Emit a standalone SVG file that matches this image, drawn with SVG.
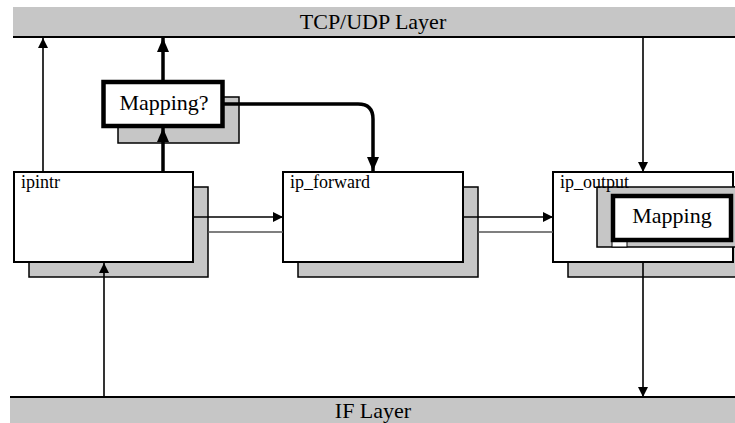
<svg xmlns="http://www.w3.org/2000/svg" width="735" height="423" viewBox="0 0 735 423">
<style>
  text { font-family: "Liberation Serif", "Times New Roman", serif; fill: #000; }
  .bar { fill: #c6c6c6; }
  .barline { stroke: #000; stroke-width: 2; }
  .box { fill: #fff; stroke: #000; stroke-width: 2; }
  .shadow { fill: #c6c6c6; stroke: #000; stroke-width: 1.5; }
  .thick { fill: #fff; stroke: #000; stroke-width: 4.5; }
  .thin { fill: none; stroke: #000; stroke-width: 1.6; }
  .fat { fill: none; stroke: #000; stroke-width: 3.5; }
  .grayline { fill: none; stroke: #555; stroke-width: 1.3; }
  .lbl { font-size: 18px; }
  .big { font-size: 22px; text-anchor: middle; }
</style>
<defs>
  <marker id="ah" markerUnits="userSpaceOnUse" markerWidth="10" markerHeight="12" refX="10" refY="5" orient="auto" viewBox="0 0 10 10">
    <path d="M0,0 L10,5 L0,10 z" fill="#000"/>
  </marker>
  <marker id="ahb" markerUnits="userSpaceOnUse" markerWidth="14" markerHeight="12" refX="14" refY="6" orient="auto" viewBox="0 0 14 12">
    <path d="M0,0 L14,6 L0,12 z" fill="#000"/>
  </marker>
</defs>

<g id="tcp-layer">
  <rect class="bar" x="13" y="7" width="722" height="30"/>
  <line class="barline" x1="13" y1="37" x2="735" y2="37"/>
  <text class="big" x="373" y="29">TCP/UDP Layer</text>
</g>

<g id="if-layer">
  <rect class="bar" x="10" y="397" width="725" height="26"/>
  <line class="barline" x1="10" y1="397" x2="735" y2="397"/>
  <text class="big" x="373" y="418">IF Layer</text>
</g>

<g id="ipintr">
  <rect class="shadow" x="29" y="187" width="179" height="90"/>
  <rect class="box" x="14" y="172" width="179" height="90"/>
  <text class="lbl" x="21" y="188">ipintr</text>
</g>

<g id="ip_forward">
  <rect class="shadow" x="298" y="187" width="180" height="90"/>
  <rect class="box" x="283" y="172" width="180" height="90"/>
  <text class="lbl" x="290" y="188">ip_forward</text>
</g>

<g id="ip_output">
  <rect class="shadow" x="568" y="187" width="170" height="90"/>
  <rect class="box" x="553" y="172" width="180" height="90"/>
  <rect class="shadow" x="597" y="187" width="142" height="60"/>
  <rect fill="#fff" stroke="#000" stroke-width="1" x="612" y="240" width="15" height="7"/>
  <text class="lbl" x="560" y="188">ip_output</text>
</g>

<g id="mapping-q">
  <rect class="shadow" x="118" y="97" width="121" height="46"/>
  <rect class="thick" x="103.5" y="82" width="119" height="44"/>
  <text class="big" x="164" y="110">Mapping?</text>
</g>

<g id="mapping">
  <rect class="thick" x="613" y="196" width="118" height="44"/>
  <text class="big" x="672" y="223">Mapping</text>
</g>

<g id="connectors">
  <line class="thin" x1="43" y1="172" x2="43" y2="38" marker-end="url(#ah)"/>
  <line class="fat" x1="163" y1="80" x2="163" y2="38" marker-end="url(#ahb)"/>
  <line class="fat" x1="163" y1="172" x2="163" y2="128" marker-end="url(#ahb)"/>
  <path class="fat" d="M224,104 H358 Q373,104 373,119 V171" marker-end="url(#ahb)"/>
  <line class="thin" x1="193" y1="217" x2="283" y2="217" marker-end="url(#ah)"/>
  <line class="grayline" x1="208" y1="232" x2="283" y2="232"/>
  <line class="thin" x1="463" y1="217" x2="553" y2="217" marker-end="url(#ah)"/>
  <line class="grayline" x1="478" y1="232" x2="553" y2="232"/>
  <line class="thin" x1="643" y1="37" x2="643" y2="172" marker-end="url(#ah)"/>
  <line class="thin" x1="643" y1="262" x2="643" y2="397" marker-end="url(#ah)"/>
  <line class="thin" x1="104" y1="397" x2="104" y2="263" marker-end="url(#ah)"/>
</g>
</svg>
